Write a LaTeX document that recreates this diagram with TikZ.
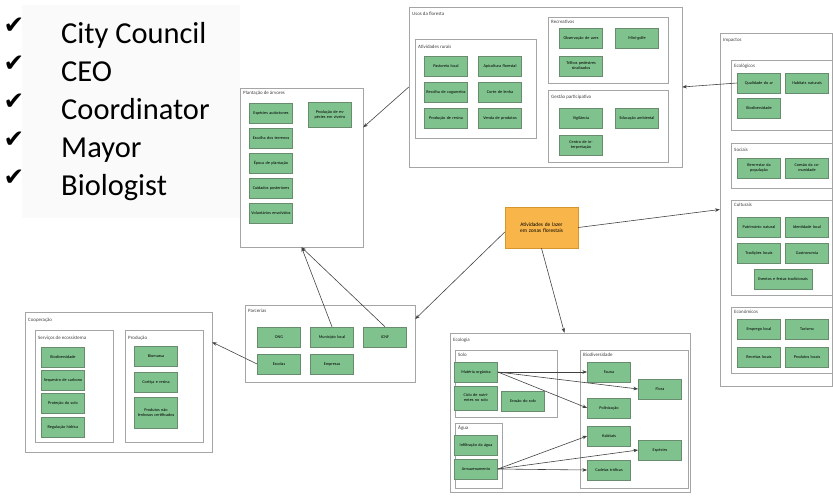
\documentclass[tikz,border=0pt]{standalone}
\usepackage{fontspec}
\setmainfont{Carlito}
\newfontfamily\symfont{DejaVu Sans}
\usetikzlibrary{arrows.meta,fit}
\definecolor{boxgreen}{RGB}{128,194,142}
\definecolor{boxedge}{RGB}{105,140,110}
\definecolor{lazerfill}{RGB}{248,182,74}
\definecolor{lazeredge}{RGB}{215,150,45}
\definecolor{paneledge}{RGB}{165,165,165}
\begin{document}
\begin{tikzpicture}[x=0.03cm, y=-0.03cm,
    box/.style={draw=boxedge, fill=boxgreen, minimum width=1.3cm, minimum height=0.6cm, inner sep=0.5pt,
        text width=1.2cm, align=center, font=\fontsize{3.6}{4.2}\selectfont},
    panel/.style={draw=paneledge, fill=white, inner sep=0pt},
    ttl/.style={anchor=west, inner sep=0pt, text=black!75, font=\fontsize{4.2}{5}\selectfont},
    arr/.style={-{Stealth[length=4pt,width=3pt]}, line width=0.5pt, black!75},
    tick/.style={inner sep=0pt, font=\symfont\fontsize{21}{21}\selectfont},
    who/.style={anchor=base west, inner sep=0pt, font=\fontsize{26}{30}\selectfont}]
    \useasboundingbox (0,0) rectangle (833,495);
    \fill[gray!4] (22,5) rectangle (240,218);

    \foreach \name [count=\i from 0] in {City Council, CEO, Coordinator, Mayor, Biologist} {
        \node[tick] (tick\i) at (14,26+38*\i) {✔};
        \node[who] (who\i) at (61,43+38*\i) {\name};
    }

    % plantacao
    \node[panel, fit={(240,88) (363,247)}] (plant) {};
    \node[ttl] (plantT) at (243,93) {Plantação de árvores};
    \node[box] (pl1) at (271,113) {Espécies autóctones};
    \node[box] (pl2) at (271,138) {Escolha dos terrenos};
    \node[box] (pl3) at (271,163) {Época de plantação};
    \node[box] (pl4) at (271,188) {Cuidados posteriores};
    \node[box] (pl5) at (271,213) {Voluntários envolvidos};
    \node[box, minimum height=0.75cm] (pl6) at (330,115) {Produção de espécies em viveiro};

    % usos da floresta
    \node[panel, fit={(409,7) (682,167)}] (usos) {};
    \node[ttl] (usosT) at (412,14) {Usos da floresta};
    \node[panel, fit={(415,39) (536,138)}] (rural) {};
    \node[ttl] (ruralT) at (418,47) {Atividades rurais};
    \node[box] (ru1) at (446,66) {Pastoreio local};
    \node[box] (ru2) at (500,66) {Apicultura florestal};
    \node[box] (ru3) at (446,92) {Recolha de cogumelos};
    \node[box] (ru4) at (500,92) {Corte de lenha};
    \node[box] (ru5) at (446,118) {Produção de resina};
    \node[box] (ru6) at (500,118) {Venda de produtos};
    \node[panel, fit={(548,17) (668,83)}] (recr) {};
    \node[ttl] (recrT) at (551,22) {Recreativos};
    \node[box] (re1) at (581,38) {Observação de aves};
    \node[box] (re2) at (637,38) {Mini-golfe};
    \node[box] (re3) at (581,66) {Trilhos pedestres sinalizados};
    \node[panel, fit={(548,90) (668,162)}] (gest) {};
    \node[ttl] (gestT) at (551,97) {Gestão participativa};
    \node[box] (ge1) at (581,118) {Vigilância};
    \node[box] (ge2) at (637,118) {Educação ambiental};
    \node[box] (ge3) at (581,145) {Centro de interpretação};

    % impactos
    \node[panel, fit={(720,33) (832,386)}] (imp) {};
    \node[ttl] (impT) at (723,40) {Impactos};
    \node[panel, fit={(731,60) (832,130)}] (iEco) {};
    \node[ttl] (iEcoT) at (734,66) {Ecológicos};
    \node[box] (ec1) at (759,83) {Qualidade do ar};
    \node[box] (ec2) at (807,83) {Habitats naturais};
    \node[box] (ec3) at (759,108) {Biodiversidade};
    \node[panel, fit={(731,143) (832,188)}] (iSoc) {};
    \node[ttl] (iSocT) at (734,150) {Sociais};
    \node[box] (sc1) at (759,168) {Bem-estar da população};
    \node[box] (sc2) at (807,168) {Coesão da comunidade};
    \node[panel, fit={(731,200) (832,295)}] (iCul) {};
    \node[ttl] (iCulT) at (734,205) {Culturais};
    \node[box] (cu1) at (759,227) {Património natural};
    \node[box] (cu2) at (807,227) {Identidade local};
    \node[box] (cu3) at (759,253) {Tradições locais};
    \node[box] (cu4) at (807,253) {Gastronomia};
    \node[box, minimum width=1.74cm, text width=1.6cm] (cu5) at (783,279) {Eventos e festas tradicionais};
    \node[panel, fit={(731,307) (832,373)}] (iEcon) {};
    \node[ttl] (iEconT) at (734,312) {Económicos};
    \node[box] (en1) at (759,329) {Emprego local};
    \node[box] (en2) at (807,329) {Turismo};
    \node[box] (en3) at (759,357) {Receitas locais};
    \node[box] (en4) at (807,357) {Produtos locais};

    % cooperacao
    \node[panel, fit={(25,312) (212,452)}] (coop) {};
    \node[ttl] (coopT) at (28,320) {Cooperação};
    \node[panel, fit={(35,330) (113,442)}] (serv) {};
    \node[ttl] (servT) at (38,338) {Serviços de ecossistema};
    \node[box] (se1) at (63,357) {Biodiversidade};
    \node[box] (se2) at (63,380) {Sequestro de carbono};
    \node[box] (se3) at (63,403) {Proteção do solo};
    \node[box] (se4) at (63,427) {Regulação hídrica};
    \node[panel, fit={(125,330) (203,442)}] (prod) {};
    \node[ttl] (prodT) at (128,338) {Produção};
    \node[box] (pr1) at (156,356) {Biomassa};
    \node[box] (pr2) at (156,382) {Cortiça e resina};
    \node[box, minimum height=0.93cm] (pr3) at (156,413) {Produtos não lenhosos certificados};

    % parcerias
    \node[panel, fit={(245,305) (415,382)}] (parc) {};
    \node[ttl] (parcT) at (248,311) {Parcerias};
    \node[box] (pa1) at (279,337) {ONG};
    \node[box] (pa2) at (332,337) {Município local};
    \node[box] (pa3) at (385,337) {ICNF};
    \node[box] (pa4) at (279,364) {Escolas};
    \node[box] (pa5) at (332,364) {Empresas};

    % ecologia
    \node[panel, fit={(450,333) (690,492)}] (ecolg) {};
    \node[ttl] (ecolgT) at (453,340) {Ecologia};
    \node[panel, fit={(455,350) (557,417)}] (solo) {};
    \node[ttl] (soloT) at (458,355) {Solo};
    \node[box] (sl1) at (476,372) {Matéria orgânica};
    \node[box, minimum height=0.72cm] (sl2) at (476,398) {Ciclo de nutrientes no solo};
    \node[box] (sl3) at (523,401) {Erosão do solo};
    \node[panel, fit={(455,423) (502,488)}] (agua) {};
    \node[ttl] (aguaT) at (458,428) {Água};
    \node[box] (ag1) at (476,445) {Infiltração da água};
    \node[box] (ag2) at (476,469) {Armazenamento};
    \node[panel, fit={(580,350) (688,488)}] (biod) {};
    \node[ttl] (biodT) at (583,355) {Biodiversidade};
    \node[box] (bi1) at (609,372) {Fauna};
    \node[box] (bi2) at (660,389) {Flora};
    \node[box] (bi3) at (609,408) {Polinização};
    \node[box] (bi4) at (609,436) {Habitats};
    \node[box] (bi5) at (660,450) {Espécies};
    \node[box] (bi6) at (609,470) {Cadeias tróficas};

    \node[draw=lazeredge, fill=lazerfill, minimum width=2.19cm, minimum height=1.23cm, inner sep=1pt,
        text width=2cm, align=center, font=\fontsize{4.6}{5.4}\selectfont] (lazer) at (541.5,227.5)
        {Atividades de lazer em zonas florestais};

    \draw[arr] (lazer.187) -- (parc.16);
    \draw[arr] (lazer.south) -- (ecolg.94);
    \draw[arr] (lazer.east) -- (imp.west);
    \draw[arr] (usos.west) -- (plant.33);
    \draw[arr] (ec1.west) -- (usos.east);
    \draw[arr] (pa2.north) -- (plant.south);
    \draw[arr] (pa3.north) -- (plant.south);
    \draw[arr] (pa4.west) -- (coop.23);

    \draw[arr] (sl1.east) -- (bi1.west);
    \draw[arr] (sl1.east) -- (bi2.west);
    \draw[arr] (sl1.east) -- (bi3.west);
    \draw[arr] (ag2.east) -- (bi4.west);
    \draw[arr] (ag2.east) -- (bi5.west);
    \draw[arr] (ag2.east) -- (bi6.west);
\end{tikzpicture}
\end{document}
